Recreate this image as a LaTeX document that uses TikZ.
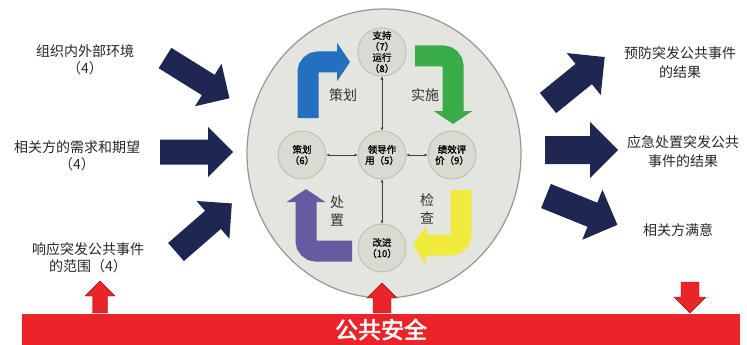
\documentclass[tikz,border=0pt]{standalone}
\usepackage{fontspec}
\setmainfont{Noto Sans CJK SC}
\newfontfamily\barFont[FakeBold=2.5]{Noto Sans CJK SC}
\newfontfamily\stepFont[FakeBold=1.2]{Noto Sans CJK SC}
\usepackage{tikz}
\usetikzlibrary{arrows.meta}
\tikzstyle{canvas} = [x = 1pt, y = -1pt]
\definecolor{navyColor}{RGB}{31,38,82}
\definecolor{cycleFill}{RGB}{229,229,224}
\definecolor{cycleLine}{RGB}{150,150,148}
\definecolor{circleFill}{RGB}{217,218,208}
\definecolor{circleLine}{RGB}{185,186,178}
\definecolor{turnBlue}{RGB}{36,112,192}
\definecolor{turnGreen}{RGB}{56,172,72}
\definecolor{turnYellow}{RGB}{240,234,60}
\definecolor{turnPurple}{RGB}{104,90,160}
\definecolor{barRed}{RGB}{234,36,40}
\tikzstyle{cycleStyle} = [fill=cycleFill, draw=cycleLine, line width=1.2pt]
\tikzstyle{stepCircle} = [circle, draw=circleLine, fill=circleFill, thick, minimum size=48pt, inner sep=0pt, align=center, font=\fontsize{9.5}{11}\stepFont]
\tikzstyle{linkArrow} = [{Latex[length=3pt,width=3pt]}-{Latex[length=3pt,width=3pt]}, color=black!75, thin]
\tikzstyle{turnArrow} = [line width=21pt, rounded corners=10pt, -{Triangle[width=38pt,length=13pt]}]
\tikzstyle{turnText} = [align=center, font=\fontsize{14}{18}\selectfont, text=black!80]
\tikzstyle{sideText} = [align=center, font=\fontsize{14}{17}\selectfont, text=black!85]
\tikzstyle{resultText} = [align=center, font=\fontsize{14}{19}\selectfont, text=black!85]
\tikzstyle{navyArrow} = [fill=navyColor, draw=none]
\tikzstyle{redArrow} = [fill=barRed, draw=barRed!60!black, thin]
\tikzstyle{safetyBar} = [fill=barRed, text=white, minimum width=718pt, minimum height=31pt, inner sep=0pt, font=\fontsize{23}{25}\barFont]
% style, x, y, angle, length, shaft half width, head half width
\newcommand{\blockArrow}[7]{\filldraw [#1, shift={(#2,#3)}, rotate=#4] (0,-#6) -- (#5-#7,-#6) -- (#5-#7,-#7) -- (#5,0) -- (#5-#7,#7) -- (#5-#7,#6) -- (0,#6) -- cycle;}

\begin{document}
\begin{tikzpicture}[canvas]
  \useasboundingbox (0,0) rectangle (747,345);
  \filldraw [cycleStyle] (384,153.5) ellipse [x radius=137, y radius=144.5];

  % PDCA turns
  \draw [turnArrow, color=turnBlue] (308,118) |- (350,62);
  \draw [turnArrow, color=turnGreen] (415,56) -| (453,124);
  \draw [turnArrow, color=turnYellow] (461,190) |- (413,245);
  \draw [turnArrow, color=turnPurple] (352,251) -| (306,189);
  \node [turnText] (planLabel) at (343,95) {策划};
  \node [turnText] (doLabel) at (425,95) {实施};
  \node [turnText] (actLabel) at (337,211) {处\\置};
  \node [turnText] (checkLabel) at (427,209) {检\\查};

  % clauses
  \node [stepCircle] (support) at (382,52) {支持\\（7）\\运行\\（8）};
  \node [stepCircle] (planning) at (302,155) {策划\\（6）};
  \node [stepCircle] (leadership) at (382,155) {领导作\\用（5）};
  \node [stepCircle] (evaluation) at (452,155) {绩效评\\价（9）};
  \node [stepCircle] (improvement) at (382,248) {改进\\（10）};
  \draw [linkArrow] (leadership) -- (support);
  \draw [linkArrow] (leadership) -- (planning);
  \draw [linkArrow] (leadership) -- (evaluation);
  \draw [linkArrow] (leadership) -- (improvement);

  % inputs
  \node [sideText] (contextText) at (85,60) {组织内外部环境\\（4）};
  \node [sideText] (needsText) at (77,156) {相关方的需求和期望\\（4）};
  \node [sideText] (scopeText) at (88,258) {响应突发公共事件\\的范围（4）};
  \blockArrow{navyArrow}{165}{58}{-32}{76}{12}{25}
  \blockArrow{navyArrow}{160}{152}{0}{73}{12.5}{25}
  \blockArrow{navyArrow}{176}{252}{41}{74}{12}{25}

  % outputs
  \node [resultText] (preventText) at (680,63) {预防突发公共事件\\的结果};
  \node [resultText] (responseText) at (683,152) {应急处置突发公共\\事件的结果};
  \node [resultText] (satisfyText) at (678,230) {相关方满意};
  \blockArrow{navyArrow}{548}{103}{39}{73}{13}{27}
  \blockArrow{navyArrow}{545}{150}{0}{73}{14}{28}
  \blockArrow{navyArrow}{546}{196}{-22}{77}{13}{27}

  % public safety
  \node [safetyBar] (bar) at (381,329.5) {公共安全};
  \blockArrow{redArrow}{100}{313}{90}{32}{7.5}{15}
  \blockArrow{redArrow}{382}{313}{90}{30}{9}{15}
  \blockArrow{redArrow}{690}{282}{-90}{31}{9}{16}
\end{tikzpicture}
\end{document}
